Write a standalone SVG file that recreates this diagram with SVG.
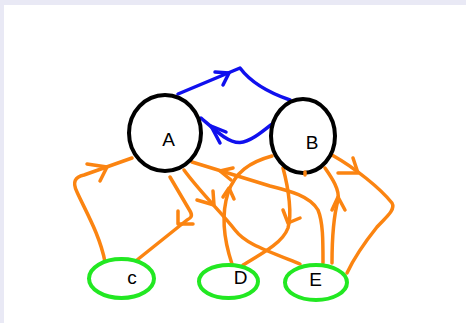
<svg xmlns="http://www.w3.org/2000/svg" width="466" height="323" viewBox="0 0 466 323">
<style>
.o{fill:none;stroke:#fb8411;stroke-width:3.5;stroke-linecap:round;stroke-linejoin:round}
.b{fill:none;stroke:#1010ee;stroke-width:3.5;stroke-linecap:round;stroke-linejoin:round}
.big{fill:#fff;stroke:#000;stroke-width:4}
.small{fill:#fff;stroke:#22e822;stroke-width:4}
text{font-family:"Liberation Sans",Arial,sans-serif;font-size:19px;fill:#000;text-anchor:middle}
</style>
<rect width="466" height="323" fill="#e9e9f5"/>
<rect x="4" y="5" width="462" height="318" fill="#fff"/>
<g id="connectors">
<path class="b" d="M178,94 L240,68 Q255,88 290,100"/>
<path class="b" d="M215,72 L229,73 L223,85"/>
<path class="b" d="M272,124 C262,132 250,142 240,142.5 C228,143 215,130 201,118"/>
<path class="b" d="M220,143 L211,126 L226,132"/>
<path class="o" d="M105,262 C100,235 85,210 77,192 C72,182 75,177 84,175 L132,158"/>
<path class="o" d="M87,164 L107,167 L100,181"/>
<path class="o" d="M170,177 L190,211 C193,216 191,218 187,220 L137,260"/>
<path class="o" d="M178,211 L178,224 L193,224"/>
<path class="o" d="M184,170 C200,192 222,213 235,230 C245,243 260,248 300,264"/>
<path class="o" d="M197,200 L214,205 L213,191"/>
<path class="o" d="M323,263 C323,240 323,222 318,210 C310,196 290,191 270,186 L192,162"/>
<path class="o" d="M233,168 L220,171 L231,180"/>
<path class="o" d="M232,264 C224,240 221,215 228,193 C235,172 250,162 272,156"/>
<path class="o" d="M223,197 L229,188 L234,199"/>
<path class="o" d="M283,168 C289,190 292,215 288,228 C283,242 265,252 243,265"/>
<path class="o" d="M283,210 L288,223 L300,218"/>
<path class="o" d="M332,263 C332,240 334,215 338,200 C340,190 332,178 325,168"/>
<path class="o" d="M332,210 L338,197 L345,210"/>
<path class="o" d="M332,155 C355,168 380,188 392,203 C396,210 385,218 377,227 C365,242 354,258 347,273"/>
<path class="o" d="M338,173 L358,173 L353,158"/>
</g>
<g id="A"><ellipse class="big" cx="165" cy="133" rx="36" ry="38"/><text x="168.5" y="145.5">A</text></g>
<g id="B"><ellipse class="big" cx="303" cy="136" rx="32" ry="37"/><text x="312" y="149">B</text></g>
<path class="o" d="M305,172 L305,175"/>
<g id="c"><ellipse class="small" cx="121.5" cy="278.5" rx="32.5" ry="19.5"/><text x="132" y="284">c</text></g>
<g id="D"><ellipse class="small" cx="228.5" cy="281.5" rx="29.5" ry="16.5"/><text x="240.5" y="283.5">D</text></g>
<g id="E"><ellipse class="small" cx="316" cy="282.5" rx="31" ry="17.5"/><text x="315.5" y="285.5">E</text></g>
</svg>
